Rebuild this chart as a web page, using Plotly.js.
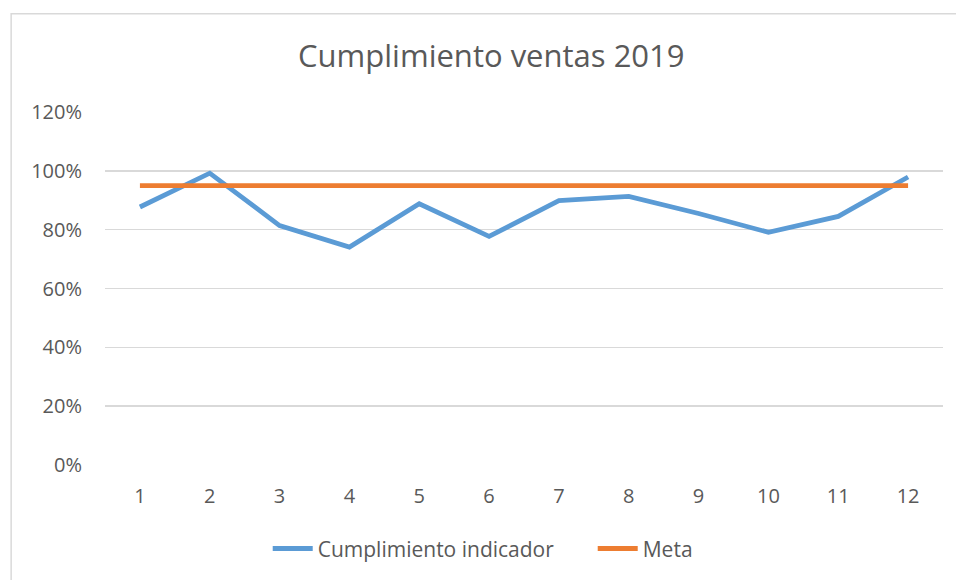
<!DOCTYPE html>
<html>
<head>
<meta charset="utf-8">
<script src="https://cdn.plot.ly/plotly-3.0.1.min.js"></script>
<style>
  html, body { margin: 0; padding: 0; background: #fff; }
  #chart { width: 956px; height: 580px; }
</style>
</head>
<body>
<div id="chart"></div>
<script>
const months = ['1','2','3','4','5','6','7','8','9','10','11','12'];
const cumplimiento = [0.877, 0.992, 0.814, 0.741, 0.888, 0.777, 0.899, 0.913, 0.855, 0.791, 0.845, 0.979];
const meta = [0.95, 0.95, 0.95, 0.95, 0.95, 0.95, 0.95, 0.95, 0.95, 0.95, 0.95, 0.95];
const yTicks = [0, 0.2, 0.4, 0.6, 0.8, 1.0, 1.2];

const FONT = 'Open Sans, sans-serif';
const GRAY = '#595959';

const traces = [
  {
    x: months, y: cumplimiento, type: 'scatter', mode: 'lines',
    name: 'Cumplimiento indicador',
    line: { color: '#5B9BD5', width: 4.8, shape: 'linear' },
    hoverinfo: 'skip'
  },
  {
    x: months, y: meta, type: 'scatter', mode: 'lines',
    name: 'Meta',
    line: { color: '#ED7D31', width: 4.8 },
    hoverinfo: 'skip'
  }
];

const layout = {
  width: 956, height: 580,
  margin: { l: 105, r: 13, t: 112, b: 114, pad: 0 },
  paper_bgcolor: '#ffffff', plot_bgcolor: '#ffffff',
  font: { family: FONT, color: GRAY, size: 20 },
  title: {
    text: 'Cumplimiento ventas 2019',
    font: { family: FONT, size: 31, color: GRAY },
    x: 0.461, xref: 'paper', xanchor: 'center',
    y: 1.205, yref: 'paper', yanchor: 'middle'
  },
  xaxis: {
    type: 'category', range: [-0.5, 11.5],
    showgrid: false, zeroline: false, showline: false,
    ticks: '', ticklabelstandoff: 17,
    tickfont: { family: FONT, size: 20, color: GRAY },
    fixedrange: true
  },
  yaxis: {
    range: [0, 1.2], tickvals: yTicks, tickformat: '.0%',
    showgrid: true, gridcolor: '#D9D9D9', gridwidth: 1.5,
    zeroline: false, showline: false, ticks: '',
    ticklabelstandoff: 22,
    tickfont: { family: FONT, size: 20, color: GRAY },
    fixedrange: true
  },
  showlegend: true,
  legend: {
    orientation: 'h', x: 0.582, xanchor: 'center', y: -0.234, yanchor: 'middle',
    font: { family: FONT, size: 21, color: GRAY },
    itemwidth: 40, entrywidth: 270, traceorder: 'normal', bgcolor: 'rgba(0,0,0,0)'
  },
  shapes: [
    {
      type: 'rect', xref: 'paper', yref: 'paper',
      x0: -0.112, x1: 1.05, y0: -0.5, y1: 1.278,
      line: { color: '#D9D9D9', width: 1.5 }, fillcolor: 'rgba(0,0,0,0)', layer: 'below'
    }
  ]
};

Plotly.newPlot('chart', traces, layout, { displayModeBar: false, staticPlot: true });
</script>
</body>
</html>
